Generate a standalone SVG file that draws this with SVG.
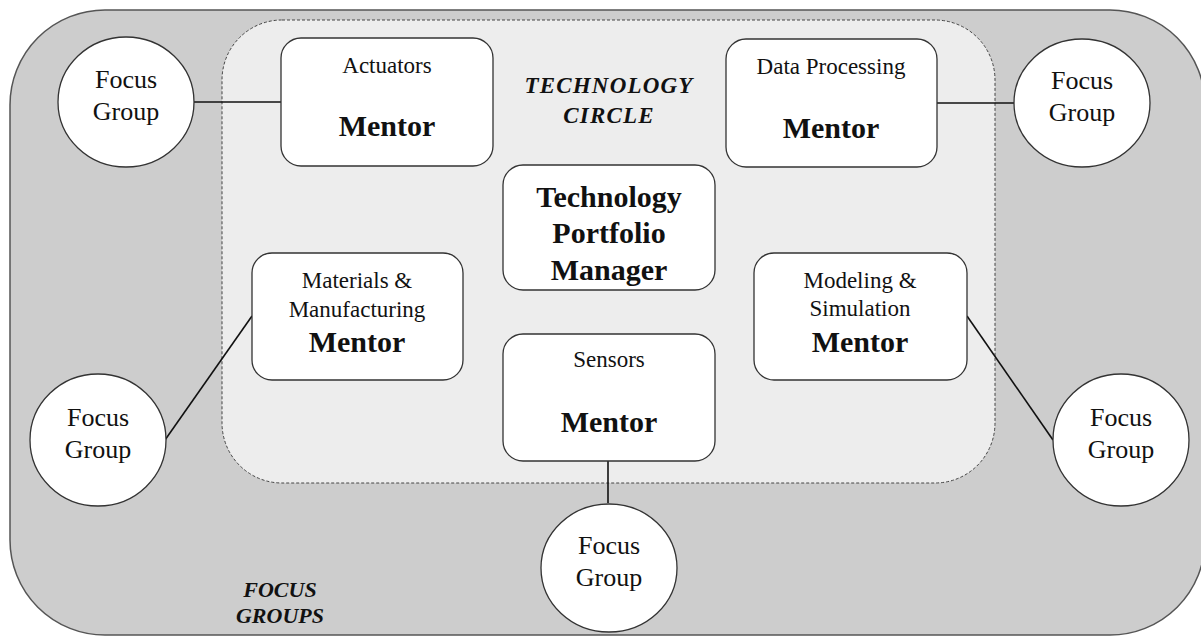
<svg xmlns="http://www.w3.org/2000/svg" width="1201" height="636" viewBox="0 0 1201 636">
<style>
.bg{fill:#ffffff}
.outer{fill:#cdcdcd;stroke:#555555;stroke-width:1.5}
.inner{fill:#ededed;stroke:#444444;stroke-width:1;stroke-dasharray:3 2}
.box{fill:#ffffff;stroke:#333333;stroke-width:1.3}
.fg{fill:#ffffff;stroke:#333333;stroke-width:1.3}
.conn{stroke:#111111;stroke-width:1.6;fill:none}
text{font-family:"Liberation Serif","Times New Roman",serif;fill:#111111;text-anchor:middle}
.small{font-size:23px}
.fgt{font-size:26px}
.mentor{font-size:30px;font-weight:bold}
.area{font-size:22px;font-weight:bold;font-style:italic}
</style>
<rect class="bg" x="0" y="0" width="1201" height="636"/>
<g id="focus-groups-area">
<rect class="outer" x="10" y="10" width="1195" height="625" rx="95" ry="95"/>
<text class="area" x="280" y="597">FOCUS</text>
<text class="area" x="280" y="623">GROUPS</text>
</g>
<g id="technology-circle">
<rect class="inner" x="222" y="20" width="773" height="463" rx="60" ry="60"/>
<text class="area" x="609" y="93" style="font-size:23px;letter-spacing:1.2px">TECHNOLOGY</text>
<text class="area" x="609" y="123" style="font-size:23px;letter-spacing:1.2px">CIRCLE</text>
</g>
<g id="connectors">
<line class="conn" x1="193" y1="102" x2="281" y2="102"/>
<line class="conn" x1="937" y1="103" x2="1014" y2="103"/>
<line class="conn" x1="165" y1="440" x2="252" y2="316"/>
<line class="conn" x1="967" y1="316" x2="1053" y2="440"/>
<line class="conn" x1="608" y1="461" x2="608" y2="503"/>
</g>
<g id="actuators">
<rect class="box" x="281" y="38" width="212" height="128" rx="20" ry="20"/>
<text class="small" x="387" y="73">Actuators</text>
<text class="mentor" x="387" y="136">Mentor</text>
</g>
<g id="data-processing">
<rect class="box" x="726" y="39" width="211" height="128" rx="20" ry="20"/>
<text class="small" x="831" y="74">Data Processing</text>
<text class="mentor" x="831" y="138">Mentor</text>
</g>
<g id="portfolio-manager">
<rect class="box" x="503" y="165" width="212" height="125" rx="20" ry="20"/>
<text class="mentor" x="609" y="207">Technology</text>
<text class="mentor" x="609" y="243">Portfolio</text>
<text class="mentor" x="609" y="280">Manager</text>
</g>
<g id="materials">
<rect class="box" x="252" y="253" width="211" height="127" rx="20" ry="20"/>
<text class="small" x="357" y="288">Materials  &amp;</text>
<text class="small" x="357" y="317">Manufacturing</text>
<text class="mentor" x="357" y="352">Mentor</text>
</g>
<g id="modeling">
<rect class="box" x="754" y="253" width="213" height="127" rx="20" ry="20"/>
<text class="small" x="860" y="288">Modeling &amp;</text>
<text class="small" x="860" y="316">Simulation</text>
<text class="mentor" x="860" y="352">Mentor</text>
</g>
<g id="sensors">
<rect class="box" x="503" y="334" width="212" height="127" rx="20" ry="20"/>
<text class="small" x="609" y="367">Sensors</text>
<text class="mentor" x="609" y="432">Mentor</text>
</g>
<g id="fg-top-left">
<ellipse class="fg" cx="126" cy="102" rx="68" ry="65"/>
<text class="fgt" x="126" y="88">Focus</text>
<text class="fgt" x="126" y="120">Group</text>
</g>
<g id="fg-top-right">
<ellipse class="fg" cx="1082" cy="103" rx="68" ry="64"/>
<text class="fgt" x="1082" y="89">Focus</text>
<text class="fgt" x="1082" y="121">Group</text>
</g>
<g id="fg-left">
<ellipse class="fg" cx="98" cy="440" rx="68" ry="66"/>
<text class="fgt" x="98" y="426">Focus</text>
<text class="fgt" x="98" y="458">Group</text>
</g>
<g id="fg-right">
<ellipse class="fg" cx="1121" cy="440" rx="68" ry="66"/>
<text class="fgt" x="1121" y="426">Focus</text>
<text class="fgt" x="1121" y="458">Group</text>
</g>
<g id="fg-bottom">
<ellipse class="fg" cx="609" cy="568" rx="68" ry="64"/>
<text class="fgt" x="609" y="554">Focus</text>
<text class="fgt" x="609" y="586">Group</text>
</g>
</svg>
